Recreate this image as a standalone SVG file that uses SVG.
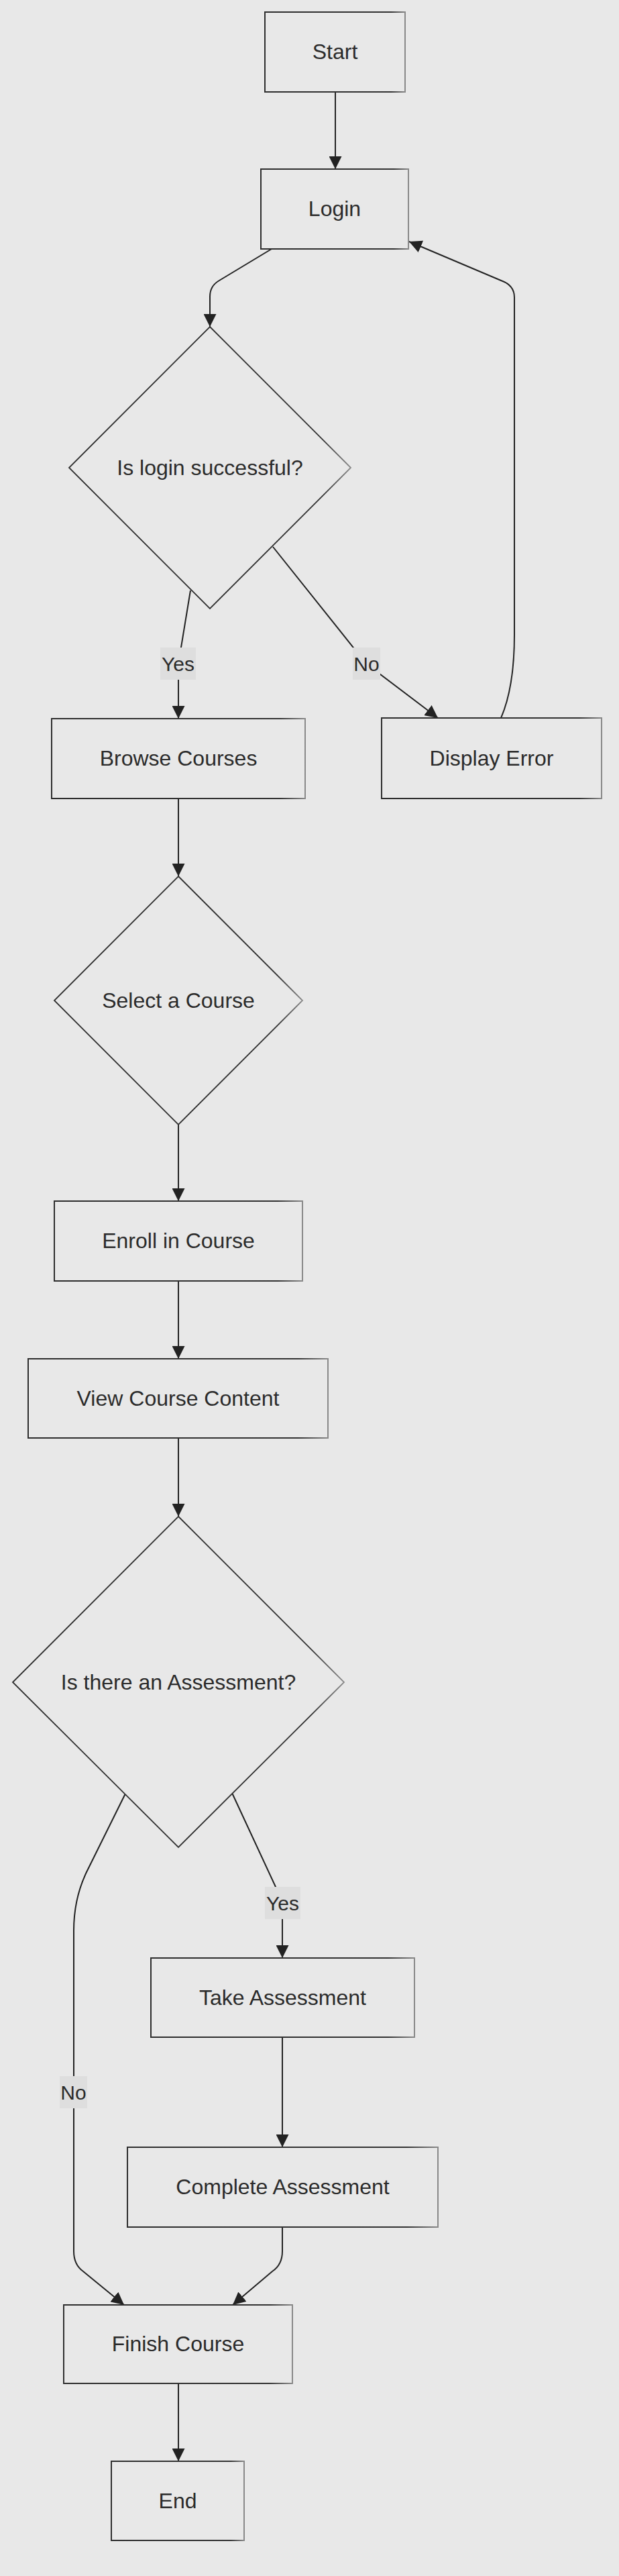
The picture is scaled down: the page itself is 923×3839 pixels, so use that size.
<svg xmlns="http://www.w3.org/2000/svg" width="923" height="3839" viewBox="0 0 923 3839">
<style>
.node rect, .node polygon { fill: #e8e8e8; stroke: url(#edge); stroke-width: 2; }
.node polygon { stroke-width: 1.8; }
.node text { font-family: "Liberation Sans", Arial, sans-serif; font-size: 32px; fill: #2b2b2b; text-anchor: middle; dominant-baseline: central; }
.conn path { fill: none; stroke: #222; stroke-width: 2; marker-end: url(#arrow); }
.lbl rect { fill: #dedede; stroke: none; }
.lbl text { font-family: "Liberation Sans", Arial, sans-serif; font-size: 30px; fill: #2b2b2b; text-anchor: middle; dominant-baseline: central; }
</style>
<defs>
<linearGradient id="edge" x1="0" y1="0" x2="1" y2="0">
<stop offset="0" stop-color="#2e2e2e"/>
<stop offset="0.9" stop-color="#333333"/>
<stop offset="1" stop-color="#8a8a8a"/>
</linearGradient>
<marker id="arrow" viewBox="0 0 10 10" refX="10" refY="5" markerWidth="19" markerHeight="19" markerUnits="userSpaceOnUse" orient="auto">
<path d="M0,0 L10,5 L0,10 z" fill="#222"/>
</marker>
</defs>
<rect x="0" y="0" width="923" height="3839" fill="#e8e8e8"/>

<g id="connectors" class="conn">
<path d="M500,137 L500,252"/>
<path d="M405,371 L327,418 Q313,426 313,442 L313,487"/>
<path d="M284,880 L266,989 L266,1071"/>
<path d="M407,815 L546,989 L653,1070"/>
<path d="M747,1070 C760,1040 767,1000 767,946 L767,443 Q767,425 747,418 L610,360"/>
<path d="M266,1190 L266,1306"/>
<path d="M266,1676 L266,1790"/>
<path d="M266,1909 L266,2025"/>
<path d="M266,2143 L266,2260"/>
<path d="M346,2672 L411,2812 L421,2835 L421,2918"/>
<path d="M187,2673 L129,2790 Q110,2830 110,2877 L110,3355 Q110,3375 124,3385 L185,3435"/>
<path d="M421,3036 L421,3200"/>
<path d="M421,3319 L421,3355 Q421,3375 406,3385 L347,3435"/>
<path d="M266,3552 L266,3668"/>
</g>

<g id="edge-labels">
<g id="label-yes-1" class="lbl"><rect x="239" y="965" width="53" height="48"/><text x="265.5" y="989">Yes</text></g>
<g id="label-no-1" class="lbl"><rect x="526" y="965" width="41" height="48"/><text x="546.5" y="989">No</text></g>
<g id="label-yes-2" class="lbl"><rect x="395" y="2812" width="53" height="48"/><text x="421.5" y="2836">Yes</text></g>
<g id="label-no-2" class="lbl"><rect x="89" y="3094" width="41" height="48"/><text x="109.5" y="3118">No</text></g>
</g>

<g id="start" class="node"><rect x="395" y="18" width="209" height="119"/><text x="499.5" y="77">Start</text></g>
<g id="login" class="node"><rect x="389" y="252" width="220" height="119"/><text x="499" y="311">Login</text></g>
<g id="login-check" class="node"><polygon points="313,487 523,697 313,907 103,697"/><text x="313" y="697">Is login successful?</text></g>
<g id="browse" class="node"><rect x="77" y="1071" width="378" height="119"/><text x="266" y="1130">Browse Courses</text></g>
<g id="display-error" class="node"><rect x="569" y="1070" width="328" height="120"/><text x="733" y="1130">Display Error</text></g>
<g id="select" class="node"><polygon points="266,1306 451,1491 266,1676 81,1491"/><text x="266" y="1491">Select a Course</text></g>
<g id="enroll" class="node"><rect x="81" y="1790" width="370" height="119"/><text x="266" y="1849">Enroll in Course</text></g>
<g id="view" class="node"><rect x="42" y="2025" width="447" height="118"/><text x="265.5" y="2084">View Course Content</text></g>
<g id="assessment-check" class="node"><polygon points="266,2260 513,2507 266,2753 19,2507"/><text x="266" y="2507">Is there an Assessment?</text></g>
<g id="take" class="node"><rect x="225" y="2918" width="393" height="118"/><text x="421.5" y="2977">Take Assessment</text></g>
<g id="complete" class="node"><rect x="190" y="3200" width="463" height="119"/><text x="421.5" y="3259">Complete Assessment</text></g>
<g id="finish" class="node"><rect x="95" y="3435" width="341" height="117"/><text x="265.5" y="3493">Finish Course</text></g>
<g id="end" class="node"><rect x="166" y="3668" width="198" height="118"/><text x="265" y="3727">End</text></g>
</svg>
